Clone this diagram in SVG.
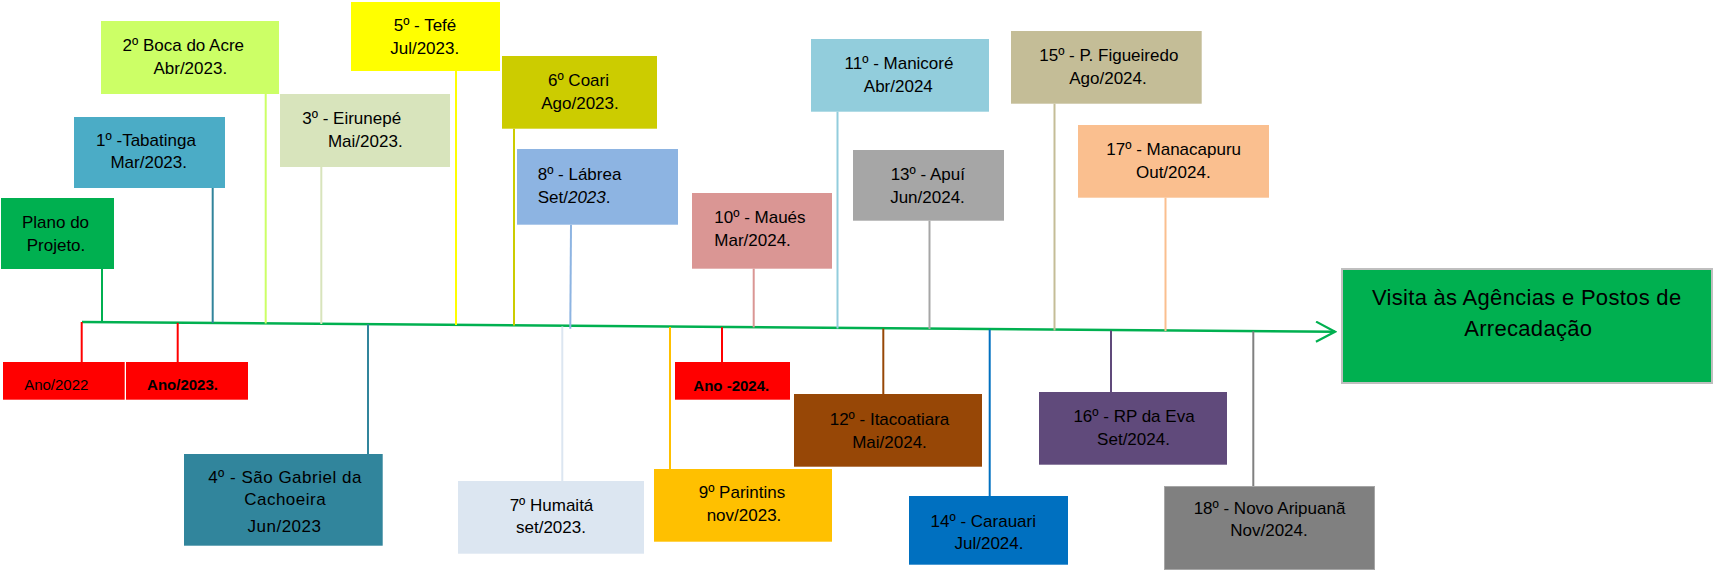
<svg xmlns="http://www.w3.org/2000/svg" width="1713" height="573" viewBox="0 0 1713 573">
<defs>
<marker id="arr" viewBox="0 0 22 22" markerWidth="22" markerHeight="22" refX="20" refY="11" orient="auto" markerUnits="userSpaceOnUse">
<polyline points="1,1 20,11 1,21" fill="none" stroke="#00b050" stroke-width="2.2"/>
</marker>
</defs>
<style>
text{font-family:"Liberation Sans",Arial,sans-serif;font-size:17px;fill:#000;}
.c{text-anchor:middle;}
.yr{font-size:15px;}
.b{font-weight:bold;}
.big{font-size:22px;letter-spacing:0.3px;}
.cn{stroke-width:2;fill:none;}
</style>
<rect width="1713" height="573" fill="#fff"/>

<g id="connectors">
<line x1="82" y1="322" x2="1335" y2="331.8" stroke="#00b050" stroke-width="2.5" marker-end="url(#arr)"/>
<line class="cn" x1="102" y1="269" x2="102" y2="322.2" stroke="#00b050"/>
<line class="cn" x1="212.7" y1="188" x2="212.7" y2="323" stroke="#31849b"/>
<line class="cn" x1="265.7" y1="94" x2="265.7" y2="323.5" stroke="#ccff66"/>
<line class="cn" x1="321.3" y1="167" x2="321.3" y2="324" stroke="#d8e4bc"/>
<line class="cn" x1="456" y1="71" x2="456" y2="325" stroke="#ffff00"/>
<line class="cn" x1="514" y1="128.7" x2="514" y2="325.4" stroke="#cccc00"/>
<line class="cn" x1="571" y1="224.7" x2="570.3" y2="328.7" stroke="#8db4e2"/>
<line class="cn" x1="753.7" y1="268.7" x2="753.7" y2="327.4" stroke="#da9694"/>
<line class="cn" x1="837.5" y1="111.7" x2="837.5" y2="328.5" stroke="#92cddc"/>
<line class="cn" x1="929.5" y1="220.7" x2="929.5" y2="329" stroke="#a6a6a6"/>
<line class="cn" x1="1054.5" y1="103.7" x2="1054.5" y2="330.5" stroke="#c4bd97"/>
<line class="cn" x1="1165.5" y1="197.7" x2="1165.5" y2="331" stroke="#fabf8f"/>
<line class="cn" x1="81.7" y1="322" x2="81.7" y2="362" stroke="#ff0000"/>
<line class="cn" x1="177.7" y1="322.8" x2="177.7" y2="362" stroke="#ff0000"/>
<line class="cn" x1="368" y1="324.3" x2="368" y2="454" stroke="#31859c"/>
<line class="cn" x1="562.3" y1="326.5" x2="562.3" y2="481" stroke="#dce6f1"/>
<line class="cn" x1="670" y1="327" x2="670" y2="469" stroke="#ffc000"/>
<line class="cn" x1="722" y1="327.3" x2="722" y2="362" stroke="#ff0000"/>
<line class="cn" x1="883.3" y1="328.6" x2="883.3" y2="394" stroke="#974706"/>
<line class="cn" x1="989.7" y1="329.4" x2="989.7" y2="496" stroke="#0070c0"/>
<line class="cn" x1="1111" y1="330.4" x2="1111" y2="392" stroke="#604a7b"/>
<line class="cn" x1="1253.3" y1="331.3" x2="1253.3" y2="486" stroke="#808080"/>
</g>

<g id="n-plano">
<rect x="1" y="198" width="113" height="71" fill="#00b050"/>
<text class="c" x="55.5" y="228.3">Plano do</text>
<text class="c" x="56" y="251">Projeto.</text>
</g>
<g id="n-tabatinga">
<rect x="74" y="117" width="151" height="71" fill="#4bacc6"/>
<text class="c" x="146" y="146">1º -Tabatinga</text>
<text class="c" x="148.7" y="168.3">Mar/2023.</text>
</g>
<g id="n-boca">
<rect x="101" y="21" width="178" height="73" fill="#ccff66"/>
<text class="c" x="183.3" y="51">2º Boca do Acre</text>
<text class="c" x="190.3" y="74">Abr/2023.</text>
</g>
<g id="n-eirunepe">
<rect x="280" y="94" width="170" height="73" fill="#d8e4bc"/>
<text class="c" x="351.7" y="124">3º - Eirunepé</text>
<text class="c" x="365.3" y="147.3">Mai/2023.</text>
</g>
<g id="n-tefe">
<rect x="351" y="2" width="149" height="69" fill="#ffff00"/>
<text class="c" x="425" y="30.7">5º - Tefé</text>
<text class="c" x="424.7" y="54">Jul/2023.</text>
</g>
<g id="n-coari">
<rect x="502" y="56" width="155" height="72.7" fill="#cccc00"/>
<text class="c" x="578.5" y="86">6º Coari</text>
<text class="c" x="580" y="109.3">Ago/2023.</text>
</g>
<g id="n-labrea">
<rect x="517" y="149" width="161" height="75.7" fill="#8db4e2"/>
<text x="537.7" y="180">8º - Lábrea</text>
<text x="537.7" y="202.7">Set/<tspan font-style="italic">2023</tspan>.</text>
</g>
<g id="n-maues">
<rect x="692" y="193" width="140" height="75.7" fill="#da9694"/>
<text x="714.3" y="223.3">10º - Maués</text>
<text x="714.3" y="246">Mar/2024.</text>
</g>
<g id="n-manicore">
<rect x="811" y="39" width="178" height="72.7" fill="#92cddc"/>
<text class="c" x="899" y="69">11º - Manicoré</text>
<text class="c" x="898.3" y="92.3">Abr/2024</text>
</g>
<g id="n-apui">
<rect x="853" y="150" width="151" height="70.7" fill="#a6a6a6"/>
<text class="c" x="927.8" y="180">13º - Apuí</text>
<text class="c" x="927.5" y="203.3">Jun/2024.</text>
</g>
<g id="n-figueiredo">
<rect x="1011" y="31" width="190.7" height="72.7" fill="#c4bd97"/>
<text class="c" x="1108.8" y="61">15º - P. Figueiredo</text>
<text class="c" x="1108" y="84">Ago/2024.</text>
</g>
<g id="n-manacapuru">
<rect x="1078" y="125" width="191" height="72.7" fill="#fabf8f"/>
<text class="c" x="1173.7" y="155.3">17º - Manacapuru</text>
<text class="c" x="1173.3" y="178.3">Out/2024.</text>
</g>

<g id="n-ano2022">
<rect x="3" y="362" width="121.7" height="37.7" fill="#ff0000"/>
<text class="c yr" x="56.3" y="390">Ano/2022</text>
</g>
<g id="n-ano2023">
<rect x="126" y="362" width="122" height="37.7" fill="#ff0000"/>
<text class="c yr b" x="182.5" y="390">Ano/2023.</text>
</g>
<g id="n-ano2024">
<rect x="675" y="362" width="115" height="37.7" fill="#ff0000"/>
<text class="c yr b" x="731.3" y="390.7">Ano -2024.</text>
</g>
<g id="n-saogabriel">
<rect x="184" y="454" width="198.7" height="91.7" fill="#31859c"/>
<text class="c" x="285" y="482.7" letter-spacing="0.5">4º - São Gabriel da</text>
<text class="c" x="285.2" y="505.3" letter-spacing="0.5">Cachoeira</text>
<text class="c" x="284.5" y="531.7" letter-spacing="0.5">Jun/2023</text>
</g>
<g id="n-humaita">
<rect x="458" y="481" width="186" height="72.7" fill="#dce6f1"/>
<text class="c" x="551.5" y="511">7º Humaitá</text>
<text class="c" x="551" y="533.3">set/2023.</text>
</g>
<g id="n-parintins">
<rect x="654" y="469" width="178" height="72.7" fill="#ffc000"/>
<text class="c" x="742" y="497.7">9º Parintins</text>
<text class="c" x="744" y="520.7">nov/2023.</text>
</g>
<g id="n-itacoatiara">
<rect x="794" y="394" width="188" height="72.7" fill="#974706"/>
<text class="c" x="889.5" y="425">12º - Itacoatiara</text>
<text class="c" x="889.5" y="447.7">Mai/2024.</text>
</g>
<g id="n-carauari">
<rect x="909" y="496" width="159" height="68.7" fill="#0070c0"/>
<text class="c" x="983.3" y="526.7">14º - Carauari</text>
<text class="c" x="989" y="549.3">Jul/2024.</text>
</g>
<g id="n-rpdaeva">
<rect x="1039" y="392" width="188" height="72.7" fill="#604a7b"/>
<text class="c" x="1134" y="422.3">16º - RP da Eva</text>
<text class="c" x="1133.5" y="445">Set/2024.</text>
</g>
<g id="n-novo">
<rect x="1164.5" y="486.5" width="210" height="83" fill="#808080" stroke="#a6a6a6" stroke-width="1"/>
<text class="c" x="1269.5" y="514.3">18º - Novo Aripuanã</text>
<text class="c" x="1269" y="536">Nov/2024.</text>
</g>
<g id="n-visita">
<rect x="1342" y="269" width="370" height="114" fill="#00b050" stroke="#bfbfbf" stroke-width="2"/>
<text class="c big" x="1526.7" y="305">Visita às Agências e Postos de</text>
<text class="c big" x="1528.3" y="335.5">Arrecadação</text>
</g>
</svg>
